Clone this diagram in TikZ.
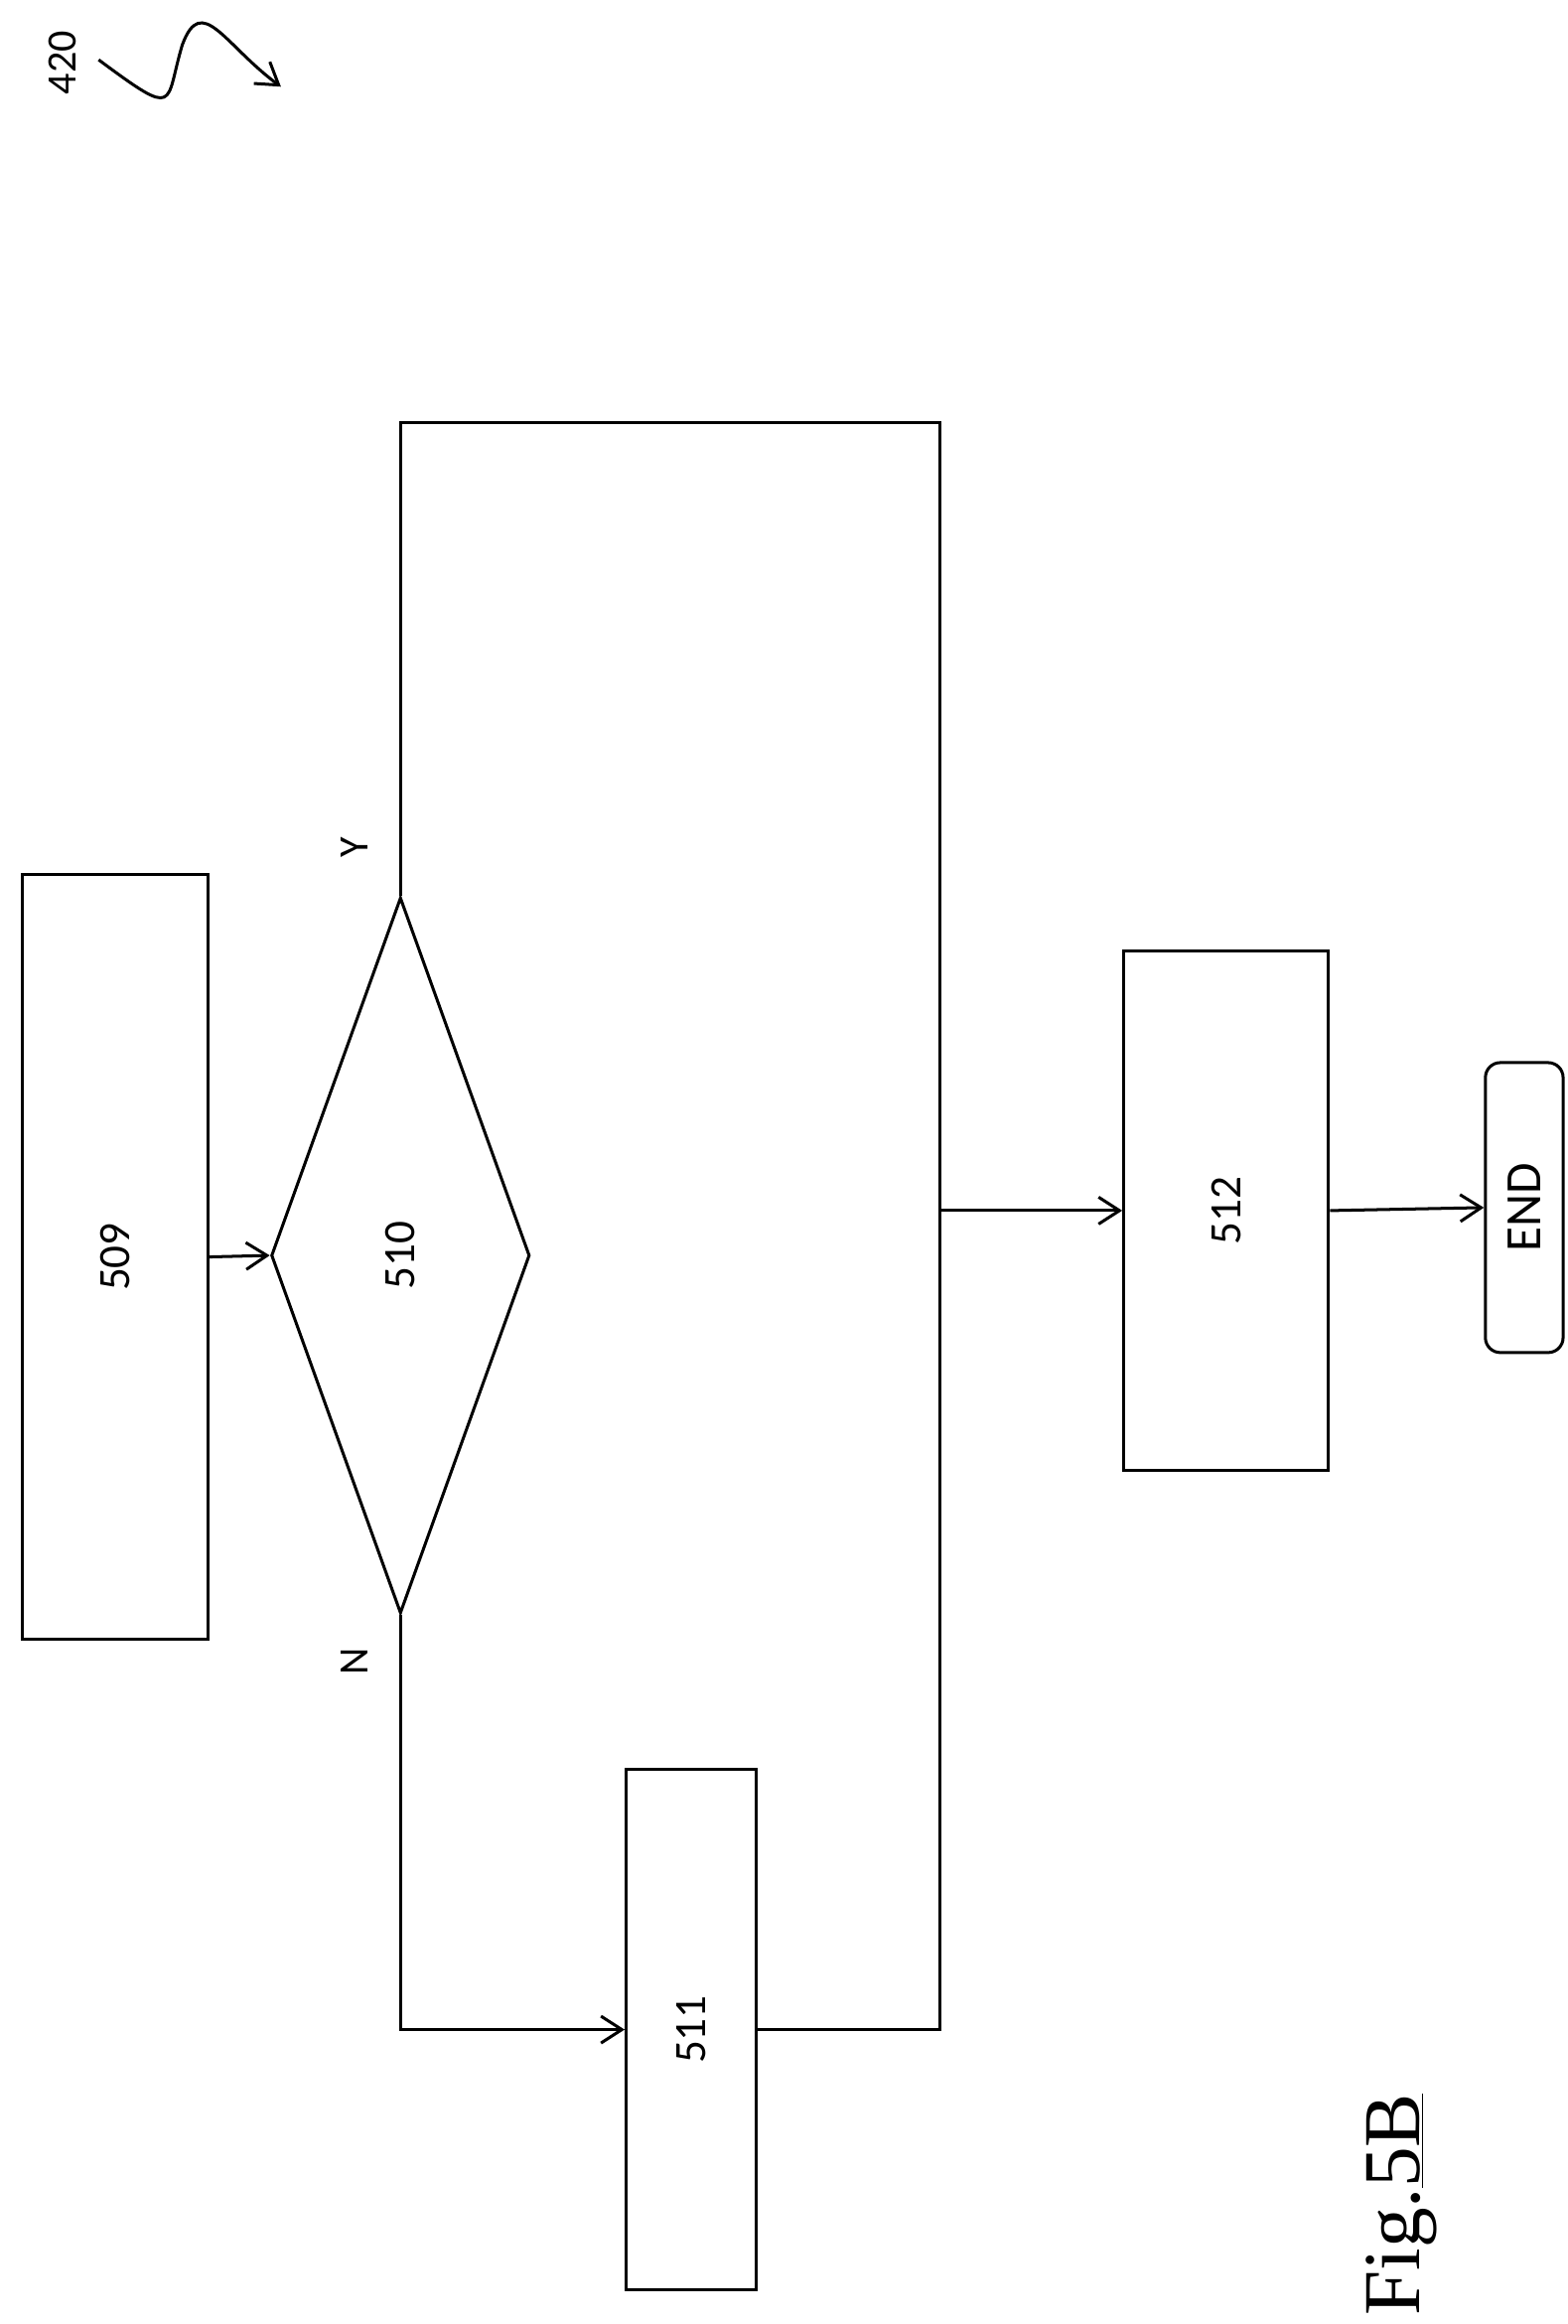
\documentclass[tikz,border=0pt]{standalone}
\usepackage{fontspec}
\setmainfont{Carlito}
\newfontfamily\figfont{Liberation Serif}
\usetikzlibrary{shapes.geometric,arrows.meta}
\tikzset{
  stepbox/.style={draw,line width=2pt,rotate=90,font=\fontsize{30}{36}\selectfont},
  flow/.style={line width=2pt,-{Straight Barb[length=14pt,width=18pt,line width=2pt]}},
  link/.style={line width=2pt},
  lbl/.style={rotate=90,font=\fontsize{28}{34}\selectfont}
}
\begin{document}
\begin{tikzpicture}[x=1pt,y=-1pt]
  \useasboundingbox (0,0) rectangle (1049,1555);
  % boxes (rotated: north is left, east is up)
  \node[stepbox,minimum width=512pt,minimum height=124pt] (b509) at (77,841) {509};
  \node[stepbox,diamond,aspect=2.76,minimum width=479pt,minimum height=173pt,inner sep=0pt] (d510) at (268,840) {510};
  \node[stepbox,minimum width=348pt,minimum height=87pt] (b511) at (462.5,1358) {511};
  \node[stepbox,minimum width=347pt,minimum height=137pt] (b512) at (820.5,810) {512};
  \node[stepbox,rounded corners=10pt,minimum width=194pt,minimum height=52pt,font=\fontsize{34}{40}\selectfont] (e) at (1020,808) {END};
  \coordinate (j) at (629,810);
  % connectors
  \draw[flow] (b509.south) -- (d510.north);
  \draw[link] (d510.east) -- (268,283) -- (629,283) -- (629,1358) -- (b511.south);
  \draw[flow] (d510.west) -- (268,1358) -- (b511.north);
  \draw[flow] (j) -- (b512.north);
  \draw[flow] (b512.south) -- (e.north);
  % labels
  \node[lbl] (y) at (237,567) {Y};
  \node[lbl] (n) at (237,1112) {N};
  \node[lbl] (r) at (42,42) {420};
  \coordinate (s) at (66,40);
  \coordinate (t) at (188,58);
  \draw[flow] (s) .. controls (120,80) and (110,70) .. (122,30) .. controls (135,-5) and (150,30) .. (t);
  \node[rotate=90,font=\figfont\fontsize{54}{60}\selectfont] (fig) at (938,1475) {Fig.\underline{5B}};
\end{tikzpicture}
\end{document}
